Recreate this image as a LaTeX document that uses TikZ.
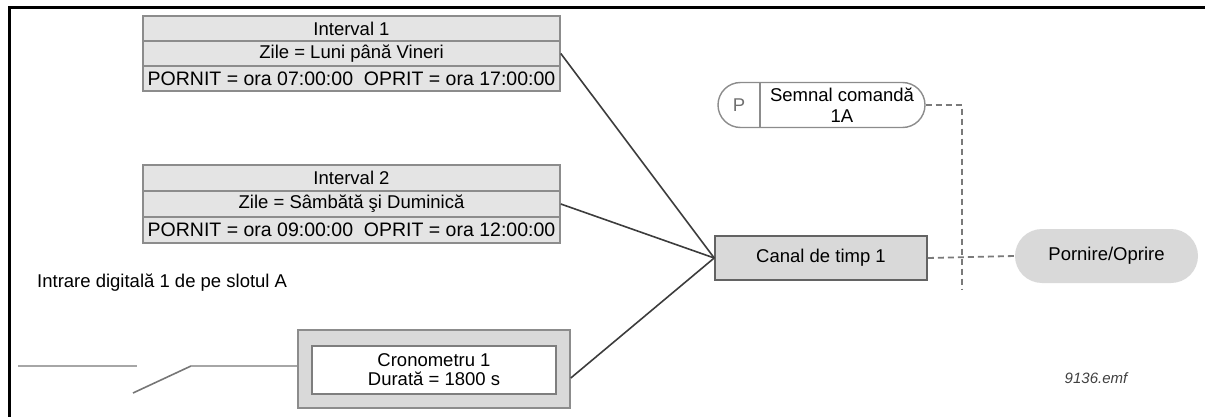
\documentclass[tikz,border=0pt]{standalone}
\usepackage{fontspec}
\setmainfont{Liberation Sans}
\usetikzlibrary{shapes.misc}
\definecolor{boxfill}{HTML}{E4E4E4}
\definecolor{boxline}{HTML}{8C8C8C}
\definecolor{darkline}{HTML}{3C3C3C}
\definecolor{pillfill}{HTML}{D9D9D9}
\definecolor{wireg}{HTML}{A6A6A6}
\definecolor{dashg}{HTML}{7A7A7A}
\tikzset{
  txt/.style={font=\fontsize{18.5}{21}\selectfont},
  introw/.style={txt, draw=boxline, line width=1.6pt, fill=boxfill, minimum width=417pt, inner sep=0pt, anchor=center},
  link/.style={draw=darkline, line width=1.6pt},
  dashline/.style={draw=dashg, line width=1.8pt, dash pattern=on 6pt off 4pt},
  wire/.style={draw=wireg, line width=2pt},
}
\begin{document}
\begin{tikzpicture}[x=1pt,y=-1pt]
\useasboundingbox (0,0) rectangle (1205,417);
% frame
\draw[line width=3pt, black] (9,417) -- (9,8) -- (1205,8);
% Interval 1
\node[introw, minimum height=25pt] (i1a) at (351.5,28.5) {Interval 1};
\node[introw, minimum height=25pt] (i1b) at (351.5,53.5) {Zile = Luni până Vineri};
\node[introw, minimum height=25pt, font=\fontsize{19.5}{21}\selectfont] (i1c) at (351.5,78.5) {PORNIT = ora 07:00:00\ \ OPRIT = ora 17:00:00};
% Interval 2
\node[introw, minimum height=26pt] (i2a) at (351.5,178) {Interval 2};
\node[introw, minimum height=26pt] (i2b) at (351.5,204) {Zile = Sâmbătă şi Duminică};
\node[introw, minimum height=26pt, font=\fontsize{19.5}{21}\selectfont] (i2c) at (351.5,230) {PORNIT = ora 09:00:00\ \ OPRIT = ora 12:00:00};
% Canal de timp
\node[txt, draw=darkline!80, line width=1.6pt, fill=pillfill, minimum width=212pt, minimum height=44pt, inner sep=0pt] (canal) at (821,258) {Canal de timp 1};
% Pornire/Oprire
\node[txt, rounded rectangle, fill=pillfill, minimum width=183pt, minimum height=54pt, inner sep=0pt, text depth=0pt] (porn) at (1106.5,256) {\raisebox{4pt}{Pornire/Oprire}};
% Semnal comanda
\node[rounded rectangle, draw=boxline, line width=1.4pt, fill=white, minimum width=207pt, minimum height=45pt, inner sep=0pt] (sem) at (821.5,105) {};
\draw[draw=boxline, line width=1.4pt] (760,82.5) -- (760,127.5);
\node[txt, text=boxline!80!black] (semp) at (739,105) {P};
\node[txt, align=center, inner sep=0pt, font=\fontsize{18.5}{20.5}\selectfont] (semt) at (842,105) {Semnal comandă\\1A};
% Cronometru
\node[draw=boxline, line width=1.6pt, fill=pillfill, minimum width=272pt, minimum height=78pt, inner sep=0pt] (crono) at (434,369) {};
\node[txt, draw=boxline!90!black, line width=1.4pt, fill=white, minimum width=244pt, minimum height=48pt, inner sep=0pt, align=center, font=\fontsize{18.5}{19}\selectfont] (cronoi) at (434,370) {Cronometru 1\\Durată = 1800 s};
% label of digital input
\node[txt, anchor=west, inner sep=0pt] (dinl) at (37,283) {Intrare digitală 1 de pe slotul A};
% switch
\coordinate (sw0) at (18,366);
\coordinate (sw1) at (137,366);
\coordinate (sw2) at (133,393);
\coordinate (sw3) at (191,366);
\draw[wire] (sw0) -- (sw1);
\draw[draw=darkline!70, line width=1.6pt] (sw2) -- (sw3);
\draw[wire] (sw3) -- (crono.west |- sw3);
% connectors
\draw[link] (i1b.east) -- (canal.west);
\draw[link] (i2b.east) -- (canal.west);
\draw[link] ([yshift=-9pt]crono.east) -- (canal.west);
% dashed
\coordinate (dtop) at (962,105);
\coordinate (dbot) at (962,290);
\draw[dashline] (sem.east) -- (dtop) -- (dbot);
\draw[dashline] (canal.east) -- (porn.west);
% file tag
\node[font=\itshape\fontsize{15}{17}\selectfont, text=black!75] (tag) at (1096,378) {9136.emf};
\end{tikzpicture}
\end{document}
